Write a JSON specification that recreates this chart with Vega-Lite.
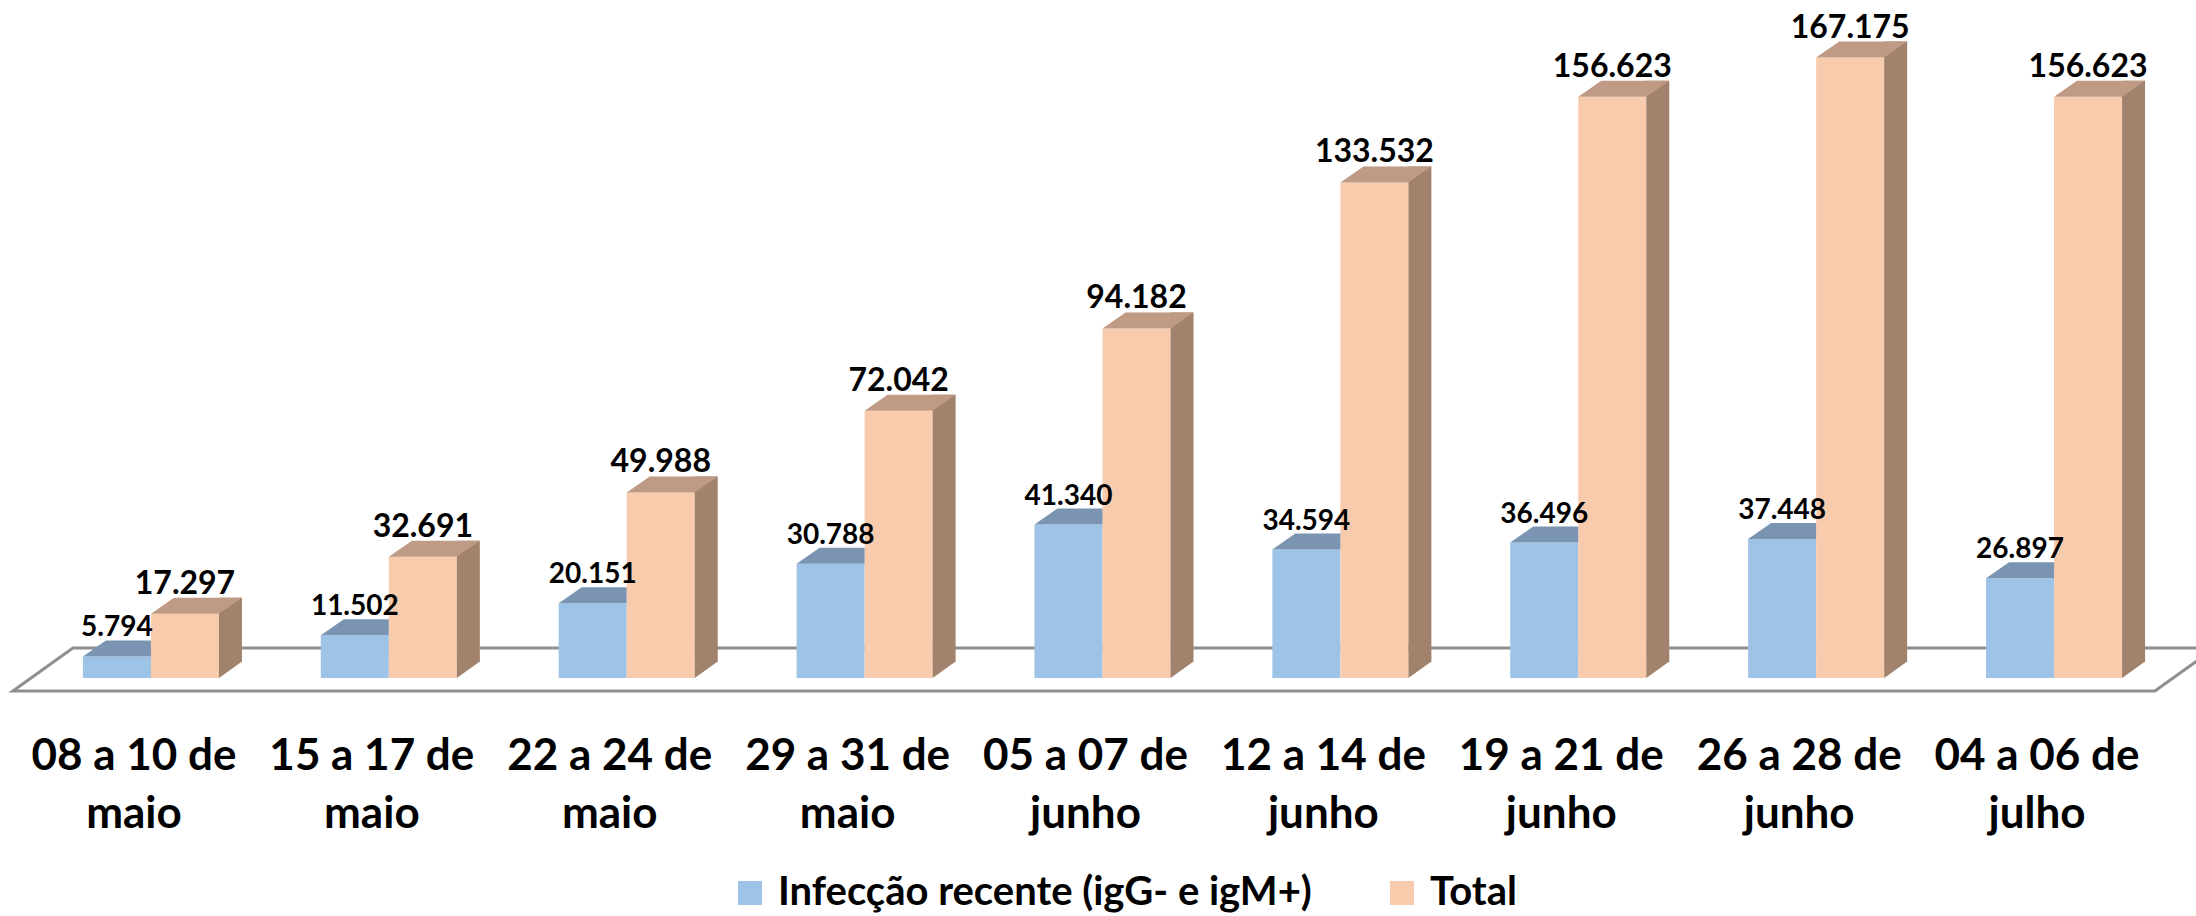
{
  "$schema": "https://vega.github.io/schema/vega-lite/v6.json",
  "autosize": {"type": "none"},
  "padding": {"left": 32, "top": 10, "right": 23, "bottom": 238},
  "width": 2141,
  "height": 668,
  "background": "white",
  "config": {
    "view": {"stroke": null},
    "locale": {"number": {"decimal": ",", "thousands": ".", "grouping": [3], "currency": ["R$", ""]}}
  },
  "data": {
    "values": [
      {"periodo": "08 a 10 de maio", "serie": "Infecção recente (igG- e igM+)", "valor": 5794},
      {"periodo": "08 a 10 de maio", "serie": "Total", "valor": 17297},
      {"periodo": "15 a 17 de maio", "serie": "Infecção recente (igG- e igM+)", "valor": 11502},
      {"periodo": "15 a 17 de maio", "serie": "Total", "valor": 32691},
      {"periodo": "22 a 24 de maio", "serie": "Infecção recente (igG- e igM+)", "valor": 20151},
      {"periodo": "22 a 24 de maio", "serie": "Total", "valor": 49988},
      {"periodo": "29 a 31 de maio", "serie": "Infecção recente (igG- e igM+)", "valor": 30788},
      {"periodo": "29 a 31 de maio", "serie": "Total", "valor": 72042},
      {"periodo": "05 a 07 de junho", "serie": "Infecção recente (igG- e igM+)", "valor": 41340},
      {"periodo": "05 a 07 de junho", "serie": "Total", "valor": 94182},
      {"periodo": "12 a 14 de junho", "serie": "Infecção recente (igG- e igM+)", "valor": 34594},
      {"periodo": "12 a 14 de junho", "serie": "Total", "valor": 133532},
      {"periodo": "19 a 21 de junho", "serie": "Infecção recente (igG- e igM+)", "valor": 36496},
      {"periodo": "19 a 21 de junho", "serie": "Total", "valor": 156623},
      {"periodo": "26 a 28 de junho", "serie": "Infecção recente (igG- e igM+)", "valor": 37448},
      {"periodo": "26 a 28 de junho", "serie": "Total", "valor": 167175},
      {"periodo": "04 a 06 de julho", "serie": "Infecção recente (igG- e igM+)", "valor": 26897},
      {"periodo": "04 a 06 de julho", "serie": "Total", "valor": 156623}
    ]
  },
  "encoding": {
    "x": {
      "field": "periodo", "type": "nominal",
      "sort": ["08 a 10 de maio", "15 a 17 de maio", "22 a 24 de maio", "29 a 31 de maio", "05 a 07 de junho", "12 a 14 de junho", "19 a 21 de junho", "26 a 28 de junho", "04 a 06 de julho"],
      "scale": {"paddingInner": 0.428, "paddingOuter": 0.214},
      "axis": {
        "title": null, "domain": false, "ticks": false, "grid": false,
        "labelFont": "Lato", "labelFontSize": 44, "labelFontWeight": "bold", "labelColor": "black",
        "labelAngle": 0, "labelPadding": 56, "labelOffset": -17, "labelLineHeight": 58,
        "labelBaseline": "top", "labelLimit": 0, "labelOverlap": false,
        "labelExpr": "[substring(datum.label, 0, 10), substring(datum.label, 11)]"
      }
    },
    "y": {
      "field": "valor", "type": "quantitative",
      "scale": {"domain": [0, 180000], "nice": false, "zero": true},
      "axis": null
    }
  },
  "layer": [
    {
      "transform": [{"filter": "datum.periodo === '05 a 07 de junho' && datum.serie === 'Total'"}],
      "mark": {
        "type": "point", "filled": true, "fill": "white", "stroke": "#8f8f8f", "strokeWidth": 3, "opacity": 1,
        "shape": "M-0.97286,0.01161L-0.91929,-0.02679L0.99321,-0.02679L0.93964,0.01161Z",
        "size": 5017600
      },
      "encoding": {"y": {"datum": 0}}
    },
    {
      "mark": {"type": "bar"},
      "encoding": {
        "xOffset": {"field": "serie", "type": "nominal", "sort": null, "scale": {"paddingInner": 0, "paddingOuter": 0}},
        "y2": {"datum": 0},
        "color": {
          "field": "serie", "type": "nominal",
          "scale": {"domain": ["Infecção recente (igG- e igM+)", "Total"], "range": ["#9DC3E6", "#F8CBAD"]},
          "legend": {
            "orient": "none", "legendX": 698, "legendY": 863, "direction": "horizontal", "title": null,
            "symbolType": "square", "symbolSize": 576,
            "symbolStrokeWidth": 0, "symbolOpacity": 1,
            "labelFont": "Lato", "labelFontSize": 40, "labelFontWeight": "bold", "labelColor": "black",
            "labelOffset": 8, "columnPadding": 70, "padding": 0, "labelLimit": 1000
          }
        }
      }
    },
    {
      "transform": [{"filter": "datum.serie !== 'Total'"}],
      "mark": {
        "type": "point", "filled": true, "fill": "#7A94B2", "strokeWidth": 0, "opacity": 1,
        "shape": "M-0.5965,0L0.5965,0L0.5965,-0.2807L-0.193,-0.2807Z", "size": 12996
      },
      "encoding": {
        "xOffset": {"field": "serie", "type": "nominal", "sort": null}
      }
    },
    {
      "transform": [{"filter": "datum.serie === 'Total'"}],
      "mark": {"type": "rule", "color": "#A0826D", "strokeWidth": 23, "strokeCap": "butt", "xOffset": 79.5, "yOffset": -16, "y2Offset": -16},
      "encoding": {
        "y2": {"datum": 0}
      }
    },
    {
      "transform": [{"filter": "datum.serie === 'Total'"}],
      "mark": {
        "type": "point", "filled": true, "fill": "#A0826D", "strokeWidth": 0, "opacity": 1,
        "shape": "M0.5965,-0.2895L0.5965,0L1.0,-0.2895Z", "size": 12996
      },
      "encoding": {
        "xOffset": {"field": "serie", "type": "nominal", "sort": null},
        "y": {"datum": 0}
      }
    },
    {
      "transform": [{"filter": "datum.serie === 'Total'"}],
      "mark": {
        "type": "point", "filled": true, "fill": "#BF9A84", "strokeWidth": 0, "opacity": 1,
        "shape": "M-0.5965,0L0.5965,0L1,-0.2807L-0.193,-0.2807Z", "size": 12996
      },
      "encoding": {
        "xOffset": {"field": "serie", "type": "nominal", "sort": null}
      }
    },
    {
      "transform": [{"filter": "datum.serie !== 'Total'"}],
      "mark": {"type": "text", "font": "Lato", "fontWeight": "bold", "fontSize": 28, "color": "black", "baseline": "alphabetic", "align": "center", "dy": -20},
      "encoding": {
        "xOffset": {"field": "serie", "type": "nominal", "sort": null},
        "text": {"field": "valor", "type": "quantitative", "format": ",d"}
      }
    },
    {
      "transform": [{"filter": "datum.serie === 'Total'"}],
      "mark": {"type": "text", "font": "Lato", "fontWeight": "bold", "fontSize": 32, "color": "black", "baseline": "alphabetic", "align": "center", "dy": -20},
      "encoding": {
        "xOffset": {"field": "serie", "type": "nominal", "sort": null},
        "text": {"field": "valor", "type": "quantitative", "format": ",d"}
      }
    }
  ]
}
